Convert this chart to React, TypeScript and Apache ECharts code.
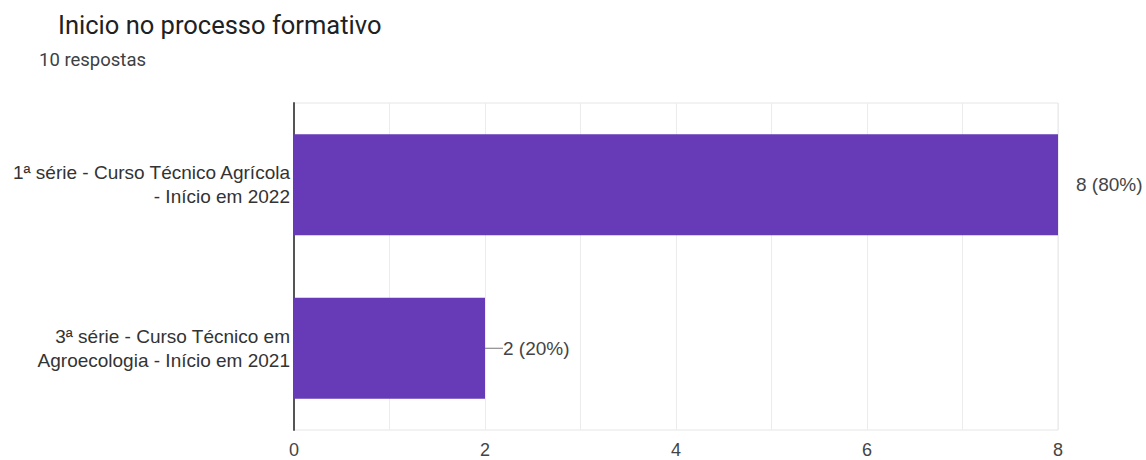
import React, { useEffect, useRef } from "react";
import * as echarts from "echarts";

const titleText = "Inicio no processo formativo";
const subtitleText = "10 respostas";
// bottom-to-top order for the ECharts category axis
const categories = [
  "3ª série - Curso Técnico em\nAgroecologia - Início em 2021",
  "1ª série - Curso Técnico Agrícola\n- Início em 2022",
];
const counts = [2, 8];
const xTicks = [0, 2, 4, 6, 8];

export default function App() {
  const ref = useRef<HTMLDivElement>(null);
  useEffect(() => {
    if (!ref.current) return;
    const chart = echarts.init(ref.current, null, { renderer: "svg" });
    const total = counts.reduce((a, b) => a + b, 0);
    const labelFont = "'Liberation Sans', Arial, sans-serif";
    chart.setOption({
      animation: false,
      backgroundColor: "#ffffff",
      title: [
        {
          text: titleText,
          left: 58,
          top: 12,
          padding: 0,
          textStyle: { fontFamily: "Roboto", fontSize: 25.5, fontWeight: "normal", color: "#202124" },
        },
        {
          text: subtitleText,
          left: 39,
          top: 50,
          padding: 0,
          textStyle: { fontFamily: "Roboto", fontSize: 18.5, fontWeight: "normal", color: "#3c4043" },
        },
      ],
      grid: {
        left: 294,
        right: 88,
        top: 103,
        bottom: 30,
        show: true,
        borderColor: "#e6e6e6",
        borderWidth: 1,
      },
      xAxis: {
        type: "value",
        min: 0,
        max: 8,
        interval: 1,
        axisLine: { show: false },
        axisTick: { show: false },
        splitLine: { show: true, lineStyle: { color: "#ececec", width: 1 } },
        axisLabel: {
          margin: 11,
          fontFamily: labelFont,
          fontSize: 18,
          color: "#444444",
          formatter: (v: number) => (xTicks.includes(v) ? String(v) : ""),
        },
      },
      yAxis: {
        type: "category",
        data: categories,
        axisLine: { show: true, lineStyle: { color: "#555555", width: 2 } },
        axisTick: { show: false },
        splitLine: { show: false },
        axisLabel: {
          margin: 4,
          fontFamily: labelFont,
          fontSize: 19,
          lineHeight: 24,
          color: "#333333",
          align: "right",
        },
      },
      series: [
        {
          type: "bar",
          data: counts,
          barWidth: 101,
          itemStyle: { color: "#673ab7" },
          label: {
            show: true,
            position: "right",
            distance: 18,
            fontFamily: labelFont,
            fontSize: 19,
            color: "#444444",
            formatter: (p: any) => `${p.value} (${Math.round((p.value / total) * 100)}%)`,
          },
          z: 3,
        },
        {
          type: "custom",
          clip: true,
          data: counts.map((v, i) => [v, i]),
          renderItem: (params: any, api: any) => {
            const p = api.coord([api.value(0), api.value(1)]);
            return {
              type: "line",
              shape: { x1: p[0], y1: p[1], x2: p[0] + 18, y2: p[1] },
              style: { stroke: "#777777", lineWidth: 1 },
            };
          },
          z: 4,
          silent: true,
        },
      ],
    });
    return () => chart.dispose();
  }, []);
  return (
    <div
      ref={ref}
      style={{ position: "fixed", left: 0, top: 0, width: 1146, height: 460 }}
    />
  );
}
